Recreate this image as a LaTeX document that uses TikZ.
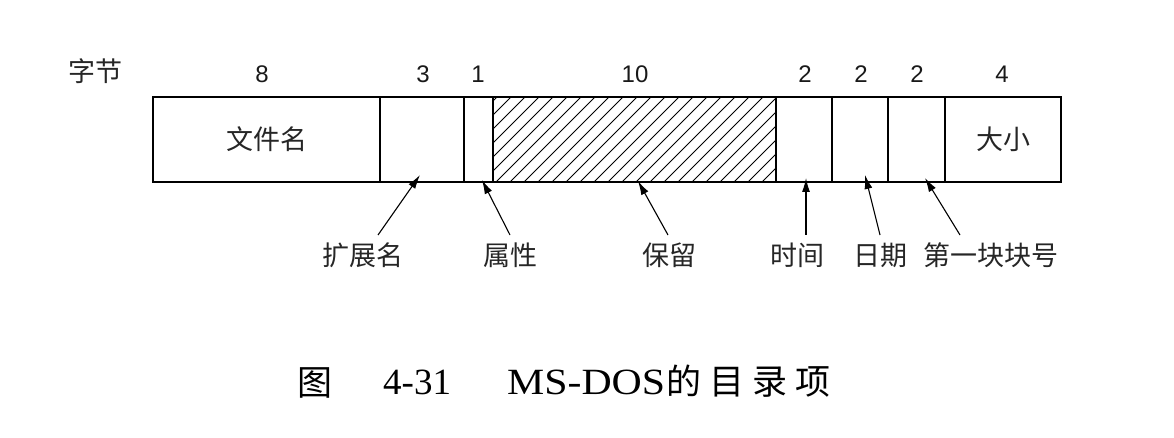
\documentclass[tikz,border=0pt]{standalone}
\usepackage{fontspec}
\setmainfont{Liberation Sans}
\newfontfamily\cjk{Noto Sans CJK SC}
\newfontfamily\capserif{Liberation Serif}
\newfontfamily\captitle[FakeStretch=1.13]{Liberation Serif}
\usetikzlibrary{arrows.meta,calc}
\begin{document}
\begin{tikzpicture}[x=1pt,y=-1pt]
\useasboundingbox (0,0) rectangle (1174,438);
\tikzset{
  field/.style={draw=black, line width=1.8pt, minimum height=85pt, inner sep=0pt, outer sep=0pt,
    font=\cjk\fontsize{27}{27}\selectfont, text=black!85},
  bytes/.style={font=\fontsize{24}{24}\selectfont, text=black!90, inner sep=0pt},
  lbl/.style={font=\cjk\fontsize{27}{27}\selectfont, text=black!85, inner sep=0pt},
  ptr/.style={-{Latex[length=14pt,width=8pt]}, line width=1.1pt},
  hatch/.style={line width=1pt},
  capcjk/.style={font=\cjk\fontsize{35}{35}\selectfont, inner sep=0pt},
  caplat/.style={font=\capserif\fontsize{37}{37}\selectfont, inner sep=0pt},
}
% fields
\node[field, minimum width=227pt] (fname) at (266.5,139.5) {文件名};
\node[field, minimum width=84pt]  (ext)   at (422,139.5) {};
\node[field, minimum width=29pt]  (attr)  at (478.5,139.5) {};
\node[field, minimum width=283pt] (resv)  at (634.5,139.5) {};
\node[field, minimum width=56pt]  (time)  at (804,139.5) {};
\node[field, minimum width=56pt]  (date)  at (860,139.5) {};
\node[field, minimum width=57pt]  (first) at (916.5,139.5) {};
\node[field, minimum width=116pt] (size)  at (1003,139.5) {大小};
% hatching of reserved field
\begin{scope}
  \clip (resv.south west) rectangle (resv.north east);
  \foreach \x in {398,412,...,790} \draw[hatch] (\x,182) -- ++(85,-85);
\end{scope}
\draw[line width=1.8pt] (resv.south west) rectangle (resv.north east);
\draw[line width=2.4pt] (fname.north west) rectangle (size.south east);
% byte counts
\node[lbl] (bytelbl) at (95,71.5) {字节};
\node[bytes] (n1) at (262,74) {8};
\node[bytes] (n2) at (423,74) {3};
\node[bytes] (n3) at (478,74) {1};
\node[bytes] (n4) at (635,74) {10};
\node[bytes] (n5) at (805,74) {2};
\node[bytes] (n6) at (861,74) {2};
\node[bytes] (n7) at (917,74) {2};
\node[bytes] (n8) at (1002,74) {4};
% labels
\node[lbl] (lext)   at (363,255) {扩展名};
\node[lbl] (lattr)  at (510,255) {属性};
\node[lbl] (lresv)  at (669,255) {保留};
\node[lbl] (ltime)  at (797,255) {时间};
\node[lbl] (ldate)  at (880,255) {日期};
\node[lbl] (lfirst) at (991,255) {第一块块号};
% pointers
\draw[ptr] ($(lext.center)+(15,-20)$)   -- ($(ext.south)+(-2,-7)$);
\draw[ptr] ($(lattr.center)+(0,-20)$)   -- ($(attr.south)+(3.5,-2)$);
\draw[ptr] ($(lresv.center)+(-1,-20)$)  -- ($(resv.south)+(3.5,-1)$);
\draw[ptr] ($(ltime.center)+(9,-20)$)   -- ($(time.south)+(2,-4)$);
\draw[ptr] ($(ldate.center)+(0,-20)$)   -- ($(date.south)+(5,-7)$);
\draw[ptr] ($(lfirst.center)+(-31,-20)$) -- ($(first.south)+(8.5,-4)$);
% caption
\node[capcjk] (cfig) at (315,383) {图};
\node[caplat, anchor=base west] (cnum) at (383,394) {4-31};
\node[caplat, anchor=base west] (ctitle) at (507,394) {{\captitle MS-DOS}\hspace{1pt}{\cjk\fontsize{35}{35}\selectfont 的\hspace{8pt}目\hspace{8pt}录\hspace{8pt}项}};
\end{tikzpicture}
\end{document}
